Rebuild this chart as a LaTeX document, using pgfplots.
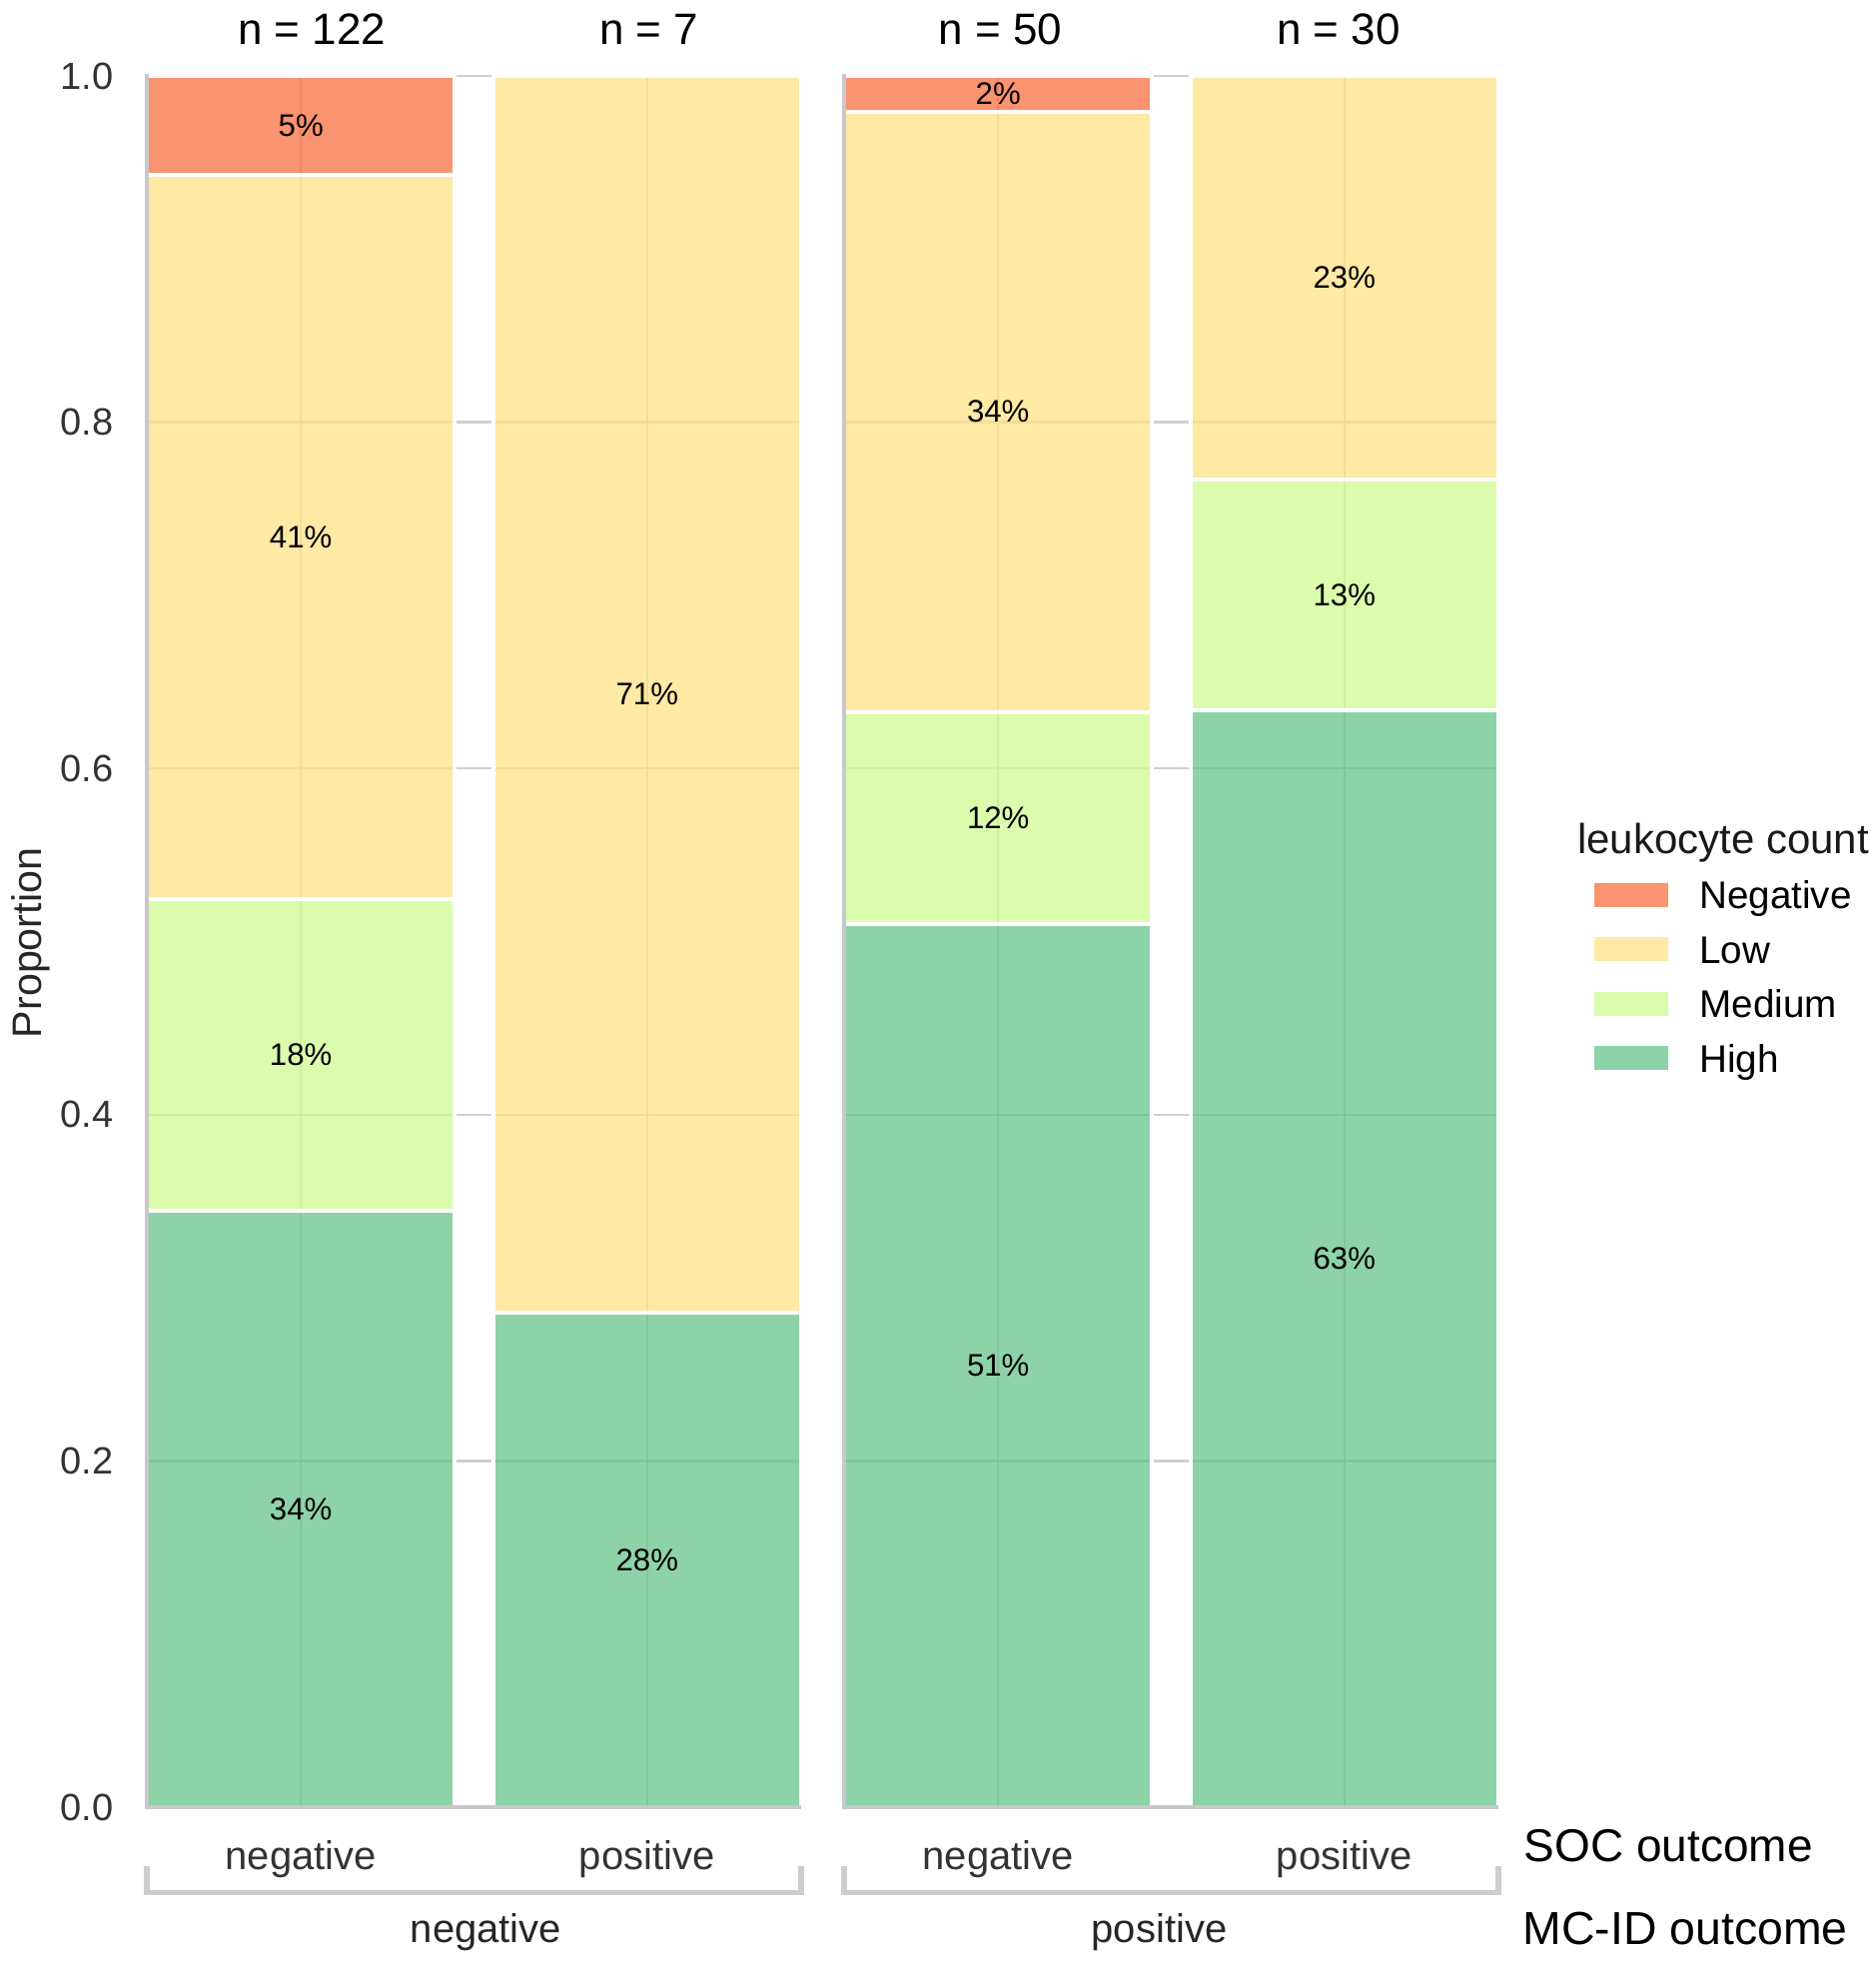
\documentclass[border=0pt]{standalone}
\usepackage{fontspec}
\setmainfont{Liberation Sans}
\usepackage{pgfplots}
\pgfplotsset{compat=1.18}
\definecolor{cNeg}{RGB}{248,111,64}
\definecolor{cLow}{RGB}{254,226,135}
\definecolor{cMed}{RGB}{207,250,146}
\definecolor{cHigh}{RGB}{104,196,139}
\definecolor{gridc}{RGB}{207,207,207}
\definecolor{axc}{RGB}{200,200,204}
\definecolor{brc}{RGB}{205,205,205}
\pgfplotsset{
  layers/mylay/.define layer set={axis background,axis grid,pre main,main,axis ticks,axis lines,axis tick labels,axis descriptions,axis foreground}{},
  seg/.style={fill=#1, draw=white, line width=1pt, fill opacity=0.75, draw opacity=1,
    legend image code/.code={\fill[##1, draw=none] (0pt,0.5pt) rectangle (18.5pt,6.5pt);}},
  panel/.style={
    set layers=mylay,
    scale only axis, width=163.75pt, height=433.25pt, anchor=south west,
    xmin=-0.445, xmax=1.445, ymin=0, ymax=1,
    clip=false,
    ybar stacked, bar width=0.889,
    xtick={0,1}, xticklabels={negative,positive},
    ytick={0,0.2,0.4,0.6,0.8,1},
    major tick length=0pt,
    grid=major, grid style={draw=gridc, line width=0.6pt},
    axis x line*=bottom, axis y line*=left,
    axis line style={draw=none},
    xticklabel style={anchor=base, inner sep=0pt, yshift=-15.75pt, font=\fontsize{10}{12}\selectfont, text=black!80},
    yticklabel style={anchor=east, inner sep=0pt, xshift=-8.2pt, font=\fontsize{9.5}{11}\selectfont, text=black!80,
      /pgf/number format/.cd, fixed, fixed zerofill, precision=1, assume math mode=true},
  },
  labpanel/.style={scale only axis, width=163.75pt, height=433.25pt, anchor=south west,
    xmin=-0.445, xmax=1.445, ymin=0, ymax=1, axis line style={draw=none}, ticks=none, clip=false},
  seglab/.style={only marks, mark=*, mark size=0pt, mark options={draw=none, fill=none},
    nodes near coords={\pgfplotspointmeta\%}, point meta=explicit symbolic,
    every node near coord/.append style={anchor=center, inner sep=0pt, font=\fontsize{7.8}{9}\selectfont, text=black}},
  nlab/.style={only marks, mark=*, mark size=0pt, mark options={draw=none, fill=none},
    nodes near coords={n = \pgfplotspointmeta}, point meta=explicit symbolic,
    every node near coord/.append style={anchor=base, inner sep=0pt, yshift=7.75pt, font=\fontsize{11}{13}\selectfont, text=black}},
}
\begin{document}
\begin{tikzpicture}
\path (0,0) rectangle (469.25pt,492.5pt);
% ---------- panel 1: MC-ID negative ----------
\begin{axis}[panel, name=p1, at={(36.75pt,40.25pt)}]
\addplot[seg=cHigh] coordinates {(0,0.3443) (1,0.2857)};
\addplot[seg=cMed]  coordinates {(0,0.1803) (1,0)};
\addplot[seg=cLow]  coordinates {(0,0.4180) (1,0.7143)};
\addplot[seg=cNeg]  coordinates {(0,0.0574) (1,0)};
\draw[brc, line width=1.4pt] ([yshift=-14.75pt]rel axis cs:0,0) -- ([yshift=-21.4pt]rel axis cs:0,0) -- ([yshift=-21.4pt]rel axis cs:1,0) -- ([yshift=-14.75pt]rel axis cs:1,0);
\node[anchor=base, inner sep=0pt, font=\fontsize{10}{12}\selectfont, text=black!85] at ([yshift=-34pt, xshift=3pt]rel axis cs:0.5,0) {negative};
\end{axis}
\begin{axis}[labpanel, at={(36.75pt,40.25pt)}]
\addplot[seglab] table[meta=l] {
x y l
0 0.1721 34
0 0.4344 18
0 0.7336 41
0 0.9713 5
1 0.1429 28
1 0.6429 71
};
\addplot[nlab] table[meta=l] {
x y l
0.032 1 122
1.006 1 7
};
\end{axis}
% ---------- panel 2: MC-ID positive ----------
\begin{axis}[panel, name=p2, at={(211.25pt,40.25pt)}, yticklabels={},
  legend style={at={(1.14656,0.53491)}, anchor=north west, draw=none, fill=none, inner sep=0pt, outer sep=0pt,
    row sep=4.625pt, font=\fontsize{9.65}{11}\selectfont,
    nodes={inner sep=0pt, text height=7pt, text depth=2pt, anchor=base west},
    /tikz/every odd column/.append style={column sep=7.85pt}},
  legend cell align=left, reverse legend]
\addplot[seg=cHigh] coordinates {(0,0.5102) (1,0.6333)};
\addlegendentry{High}
\addplot[seg=cMed]  coordinates {(0,0.1224) (1,0.1333)};
\addlegendentry{Medium}
\addplot[seg=cLow]  coordinates {(0,0.3469) (1,0.2333)};
\addlegendentry{Low}
\addplot[seg=cNeg]  coordinates {(0,0.0204) (1,0)};
\addlegendentry{Negative}
\draw[brc, line width=1.4pt] ([yshift=-14.75pt]rel axis cs:0,0) -- ([yshift=-21.4pt]rel axis cs:0,0) -- ([yshift=-21.4pt]rel axis cs:1,0) -- ([yshift=-14.75pt]rel axis cs:1,0);
\node[anchor=base, inner sep=0pt, font=\fontsize{10}{12}\selectfont, text=black!85] at ([yshift=-34pt, xshift=-3pt]rel axis cs:0.5,0) {positive};
\end{axis}
\begin{axis}[labpanel, at={(211.25pt,40.25pt)}]
\addplot[seglab] table[meta=l] {
x y l
0 0.2551 51
0 0.5714 12
0 0.8061 34
0 0.9898 2
1 0.3167 63
1 0.7000 13
1 0.8833 23
};
\addplot[nlab] table[meta=l] {
x y l
0.006 1 50
0.983 1 30
};
\end{axis}
% ---------- axis lines on top ----------
\draw[axc, line width=0.8pt] ([yshift=0.6pt]p1.north west) -- (p1.south west) -- (p1.south east);
\draw[axc, line width=0.8pt] ([yshift=0.6pt]p2.north west) -- (p2.south west) -- (p2.south east);
% ---------- titles ----------
\node[rotate=90, anchor=base, inner sep=0pt, font=\fontsize{10.3}{12}\selectfont, text=black!85] at (10.25pt,256.5pt) {Proportion};
\node[anchor=base west, inner sep=0pt, font=\fontsize{10.5}{12}\selectfont, text=black!90] at (394.6pt,278.75pt) {leukocyte count};
\node[anchor=base west, inner sep=0pt, font=\fontsize{11.5}{13}\selectfont, text=black] at (381.25pt,26.75pt) {SOC outcome};
\node[anchor=base west, inner sep=0pt, font=\fontsize{11.6}{13}\selectfont, text=black] at (381pt,5.75pt) {MC-ID outcome};
\end{tikzpicture}
\end{document}
